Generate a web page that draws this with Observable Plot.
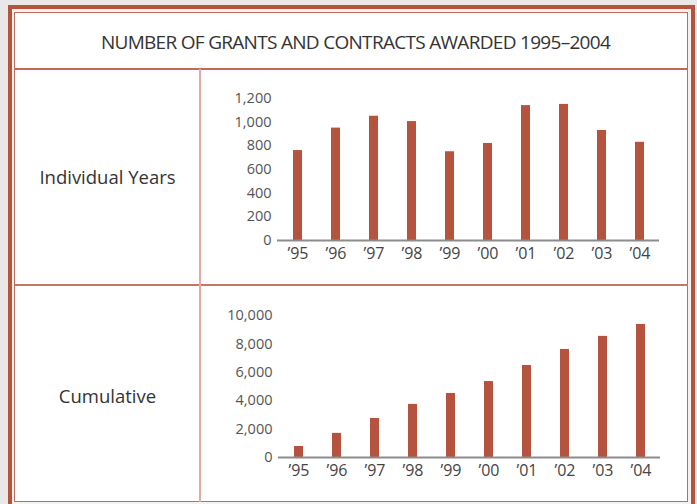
<!DOCTYPE html>
<html>
<head>
<meta charset="utf-8">
<script src="https://cdn.jsdelivr.net/npm/d3@7"></script>
<script src="https://cdn.jsdelivr.net/npm/@observablehq/plot@0.6"></script>
<style>
  html, body { margin: 0; padding: 0; }
  body { width: 697px; height: 504px; background: #e9e8e6; position: relative; overflow: hidden; font-family: "Open Sans", sans-serif; }
  .abs { position: absolute; }
  #outer { left: 8px; top: 5px; width: 679px; height: 520px; border: 4px solid #b5533f; background: #f4f1ef; }
  #inner { left: 14px; top: 12px; width: 672px; height: 488px; border: 1.5px solid #c26a5b; background: #fff; }
  #title { left: 23px; top: 12px; width: 665px; height: 57px; line-height: 60px; text-align: center; font-size: 19px; color: #333; font-family: "Open Sans", sans-serif; letter-spacing: -0.7px; }
  #hline1 { left: 15px; top: 68px; width: 673px; height: 1.5px; background: #c4695a; }
  #hline2 { left: 15px; top: 284px; width: 673px; height: 2px; background: #c97465; }
  #vline { left: 199px; top: 69px; width: 2px; height: 433px; background: #e3aba3; }
  .rowlabel { left: 15px; width: 185px; text-align: center; font-size: 18.5px; color: #333; }
  #chart1 { left: 200px; top: 80px; }
  #chart2 { left: 200px; top: 295px; }
</style>
</head>
<body>
<div id="outer" class="abs"></div>
<div id="inner" class="abs"></div>
<div id="title" class="abs">NUMBER OF GRANTS AND CONTRACTS AWARDED 1995–2004</div>
<div id="hline1" class="abs"></div>
<div id="hline2" class="abs"></div>
<div id="vline" class="abs"></div>
<div class="abs rowlabel" style="top:164px;">Individual Years</div>
<div class="abs rowlabel" style="top:383px;">Cumulative</div>
<div id="chart1" class="abs"></div>
<div id="chart2" class="abs"></div>
<script>
const years = ["’95", "’96", "’97", "’98", "’99", "’00", "’01", "’02", "’03", "’04"];
const individual = [760, 950, 1050, 1005, 750, 820, 1140, 1150, 930, 830];
const cumulative = [775, 1700, 2750, 3740, 4510, 5350, 6480, 7610, 8530, 9370];
const ticks1 = [0, 200, 400, 600, 800, 1000, 1200];
const ticks2 = [0, 2000, 4000, 6000, 8000, 10000];

const barColor = "#b5533f";
const fmt = d3.format(",");

function makeChart(values, ticks, maxY, opts) {
  const data = years.map((y, i) => ({year: y, value: values[i]}));
  return Plot.plot({
    width: 480,
    height: opts.height,
    marginLeft: opts.marginLeft,
    marginRight: opts.marginRight,
    marginTop: opts.marginTop,
    marginBottom: opts.marginBottom,
    style: {fontFamily: "'Open Sans', sans-serif", fontSize: "14px", color: "#555", background: "transparent"},
    x: {type: "band", domain: years, paddingInner: 0.765, paddingOuter: 0.3, label: null},
    y: {domain: [0, maxY], label: null},
    marks: [
      Plot.barY(data, {x: "year", y: "value", fill: barColor}),
      Plot.ruleY([0], {stroke: "#8c8c8c", strokeWidth: 2}),
      Plot.axisY({ticks: ticks, tickFormat: fmt, tickSize: 0, tickPadding: 6, label: null, fill: "#555", fontSize: 14.5}),
      Plot.axisX({tickSize: 0, tickPadding: 7, label: null, fill: "#444", fontSize: 16})
    ]
  });
}

document.getElementById("chart1").append(makeChart(individual, ticks1, 1200, {height: 190, marginLeft: 77, marginRight: 21, marginTop: 18, marginBottom: 30}));
document.getElementById("chart2").append(makeChart(cumulative, ticks2, 10000, {height: 192, marginLeft: 78, marginRight: 20, marginTop: 20, marginBottom: 30}));
</script>
</body>
</html>
